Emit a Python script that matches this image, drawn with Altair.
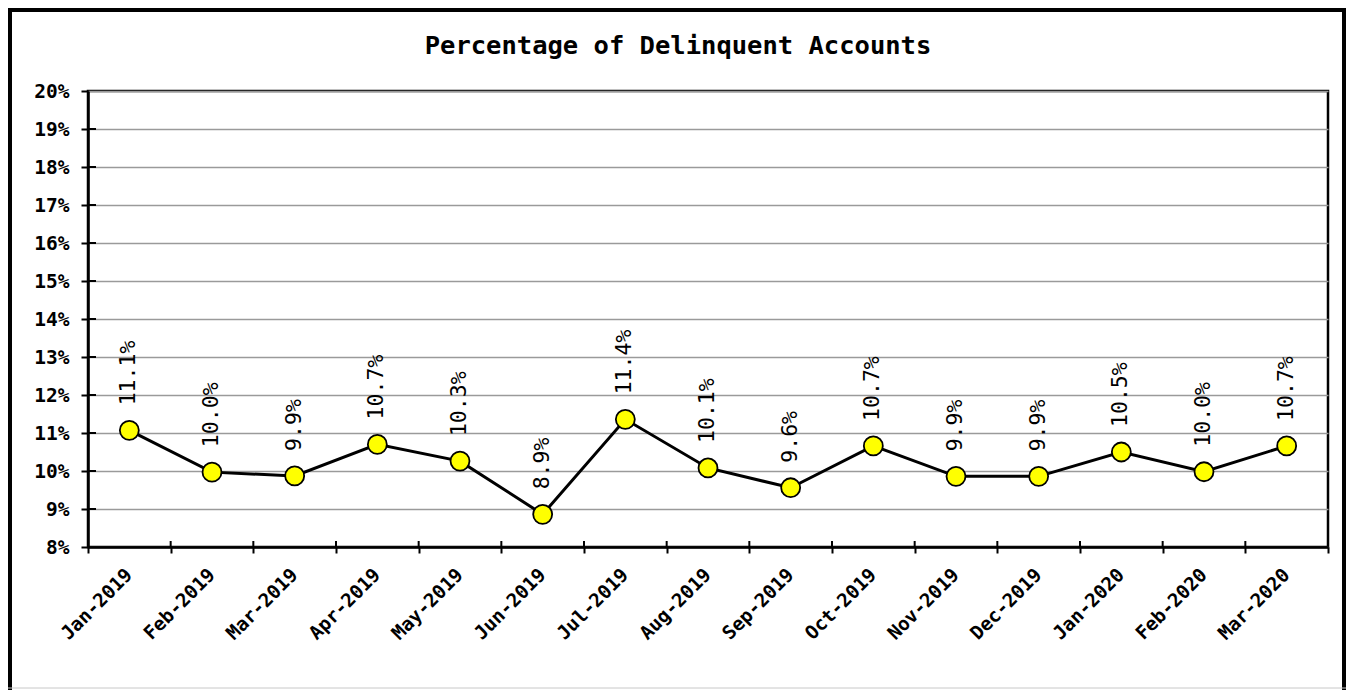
import altair as alt
import pandas as pd

months = ["Jan-2019", "Feb-2019", "Mar-2019", "Apr-2019", "May-2019", "Jun-2019",
          "Jul-2019", "Aug-2019", "Sep-2019", "Oct-2019", "Nov-2019", "Dec-2019",
          "Jan-2020", "Feb-2020", "Mar-2020"]
values = [11.07, 9.97, 9.87, 10.70, 10.26, 8.86, 11.36, 10.08, 9.56, 10.66,
          9.86, 9.86, 10.50, 9.98, 10.66]
y_ticks = [8, 9, 10, 11, 12, 13, 14, 15, 16, 17, 18, 19, 20]

FONT = "DejaVu Sans Mono"
W, H = 1240, 456

df = pd.DataFrame({"month": months, "value": values})
tick_df = pd.DataFrame({"value": y_ticks[1:-1]})
one = pd.DataFrame({"a": [0]})

xscale = alt.Scale(type="band", domain=months, paddingInner=0, paddingOuter=0)
yscale = alt.Scale(domain=[8, 20], nice=False, zero=False)

x_axis = alt.Axis(labelAngle=-45, labelFont=FONT, labelFontSize=19,
                  labelFontWeight="bold", labelColor="black",
                  tickBand="extent", tickSize=6, tickColor="black",
                  tickWidth=2, domainColor="black", domainWidth=2.5,
                  labelPadding=12, labelOffset=-7, grid=False)
y_axis = alt.Axis(values=y_ticks, labelExpr="datum.value + '%'",
                  labelFont=FONT, labelFontSize=19.5, labelFontWeight="bold",
                  labelColor="black", tickSize=7, tickColor="black",
                  tickWidth=2, domainColor="black", domainWidth=2.5,
                  labelPadding=12, grid=True, gridColor="#9a9a9a",
                  gridWidth=1.5)

x_enc = alt.X("month:N", sort=months, scale=xscale, title=None, axis=x_axis)
y_enc = alt.Y("value:Q", scale=yscale, title=None, axis=y_axis)

base = alt.Chart(df)
line = base.mark_line(color="black", strokeWidth=3).encode(x=x_enc, y=y_enc)
pts = base.mark_point(filled=True, fill="#ffff00", stroke="black", strokeWidth=1.8,
                      size=360, opacity=1, shape="circle").encode(x=x_enc, y=y_enc)
labels = base.transform_calculate(
    lbl="format(datum.value, '.1f') + '%'"
).mark_text(angle=270, align="left", baseline="middle", dx=25,
            font=FONT, fontSize=21.5, color="black").encode(
    x=x_enc, y=y_enc, text="lbl:N")

y_in = alt.Chart(tick_df).mark_rule(color="black", strokeWidth=2).encode(
    y=y_enc, x=alt.value(0), x2=alt.value(8))
x_in = alt.Chart(df).mark_rule(color="black", strokeWidth=2).encode(
    x=alt.X("month:N", sort=months, scale=xscale, title=None, axis=x_axis,
            bandPosition=0),
    y=alt.value(H), y2=alt.value(H - 6))

frame_l = alt.Chart(one).mark_rule(color="black", strokeWidth=4).encode(
    x=alt.value(-78), y=alt.value(-83), y2=alt.value(599))
frame_t = alt.Chart(one).mark_rule(color="black", strokeWidth=4).encode(
    x=alt.value(-80), x2=alt.value(1258), y=alt.value(-81))
frame_r = alt.Chart(one).mark_rule(color="black", strokeWidth=4).encode(
    x=alt.value(1256), y=alt.value(-83), y2=alt.value(599))
frame_b = alt.Chart(one).mark_rule(color="#c8c8c8", strokeWidth=1).encode(
    x=alt.value(-80), x2=alt.value(1258), y=alt.value(597))

chart = alt.layer(line, pts, labels, y_in, x_in, frame_l, frame_t, frame_r, frame_b).properties(
    width=W, height=H,
    title=alt.TitleParams("Percentage of Delinquent Accounts", font=FONT, fontSize=25.5,
                          fontWeight="bold", color="black", anchor="middle",
                          dx=-30, offset=-73, baseline="alphabetic"),
    autosize=alt.AutoSizeParams(type="none"),
    padding={"left": 80, "top": 83, "right": 18, "bottom": 143},
).configure(background="white").configure_view(stroke="black", strokeWidth=2.5)

chart.save("out.html", embed_options={"renderer": "svg", "actions": False})
